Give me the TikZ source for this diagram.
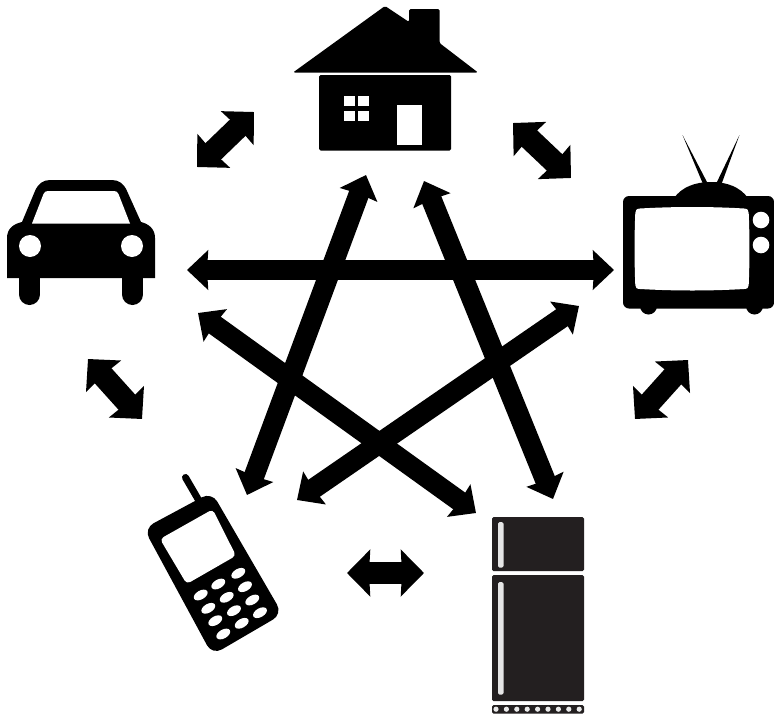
\documentclass[tikz,border=0pt]{standalone}
\usetikzlibrary{arrows.meta}
\definecolor{fridge}{HTML}{231F20}
\tikzset{
  longarrow/.style={line width=20.5pt,{Stealth[length=21pt,width=39pt,inset=1pt]}-{Stealth[length=21pt,width=39pt,inset=1pt]}},
  shortarrow/.style={line width=22.5pt,{Stealth[length=23pt,width=46pt,inset=1pt]}-{Stealth[length=23pt,width=46pt,inset=1pt]}},
  ink/.style={fill=black,draw=none},
  hole/.style={fill=white,draw=none},
}
\begin{document}
\begin{tikzpicture}[x=1pt,y=-1pt]
\useasboundingbox[fill=white] (0,0) rectangle (774,715);
% ---- house
\fill[ink,rounded corners=1.5pt] (293,72.5) -- (385,6) -- (409,22) -- (409,9) -- (439.5,9) -- (439.5,43) -- (478,72.5) -- cycle;
\fill[ink,rounded corners=1.5pt] (319,75) rectangle (451,150.5);
\fill[hole] (344,96) rectangle (355,106);
\fill[hole] (358,96) rectangle (368.5,106);
\fill[hole] (344,111) rectangle (355,121);
\fill[hole] (358,111) rectangle (368.5,121);
\fill[hole] (397,105) rectangle (422,144.5);
% ---- television
\fill[ink] (682.5,135) -- (703,184) -- (708,184) -- cycle;
\fill[ink] (739.5,135) -- (716,184) -- (721.5,184) -- cycle;
\fill[ink] (674,198) .. controls (682,187) and (695,182) .. (711,182) .. controls (727,182) and (740,187) .. (748,198) -- cycle;
\fill[ink,rounded corners=6pt] (623,196) rectangle (774,308.5);
\fill[ink] (648.5,306) circle (8.5);
\fill[ink] (754.5,306) circle (8.5);
\fill[hole] (640,208.5) .. controls (675,206.5) and (710,206.5) .. (744,208.5)
  .. controls (747.5,208.7) and (748.5,210) .. (748.7,213)
  .. controls (749.7,235) and (749.7,262) .. (748.7,285)
  .. controls (748.5,288) and (747.5,288.8) .. (744,289)
  .. controls (710,291) and (675,291) .. (640,289)
  .. controls (636.5,288.8) and (635.5,288) .. (635.3,285)
  .. controls (634.3,262) and (634.3,235) .. (635.3,213)
  .. controls (635.5,210) and (636.5,208.7) .. (640,208.5) -- cycle;
\fill[hole] (761,220) circle (8.3);
\fill[hole] (761,245) circle (8.3);
% ---- car
\fill[ink] (7,278) -- (7,238) .. controls (7,229) and (13,224) .. (22,222) -- (35,191)
  .. controls (38,184) and (43,180) .. (50,180) -- (112,180)
  .. controls (119,180) and (124,184) .. (127,191) -- (141,222)
  .. controls (149,224) and (155,229) .. (155,238) -- (155,278) -- cycle;
\draw[line width=21pt,line cap=round] (29.5,275) -- (29.5,294.5);
\draw[line width=21pt,line cap=round] (132.5,275) -- (132.5,294.5);
\fill[hole] (32,223.5) -- (43.5,194) .. controls (44.5,192) and (45.5,191) .. (48,191) -- (114,191)
  .. controls (116.5,191) and (117.5,192) .. (118.5,194) -- (130,223.5) -- cycle;
\fill[hole] (30,246) circle (11);
\fill[hole] (132,246) circle (11);
% ---- phone
\draw[line width=7pt,line cap=round] (185.5,477.5) -- (198,499);
\fill[ink,rounded corners=11pt] (143.8,528.5) -- (211.7,492) -- (282.5,614) -- (212.3,655) -- cycle;
\fill[hole,rounded corners=4pt] (160,539) -- (212.7,509.3) -- (236,555.7) -- (186.7,584) -- cycle;
\foreach \kx/\ky in {238.3/573.3,218.3/584,200.7/595,
                     245/586.7,226.7/597.3,208.3/608.3,
                     252.3/600,234/610.7,215.3/620.7,
                     260/612.7,241.7/623.3,223.3/634}
  \fill[hole,rotate around={30:(\kx,\ky)}] (\kx,\ky) ellipse (7.6 and 4.4);
% ---- fridge
\fill[fridge,rounded corners=1.5pt] (492,517) rectangle (584,571);
\fill[fridge,rounded corners=1.5pt] (492,575) rectangle (584,701);
\fill[white!90!black,rounded corners=1.5pt] (498,522) rectangle (503.5,567.5);
\fill[white!90!black,rounded corners=1.5pt] (498,582) rectangle (503.5,694.5);
\fill[fridge,rounded corners=1.5pt] (492,705) rectangle (584,713.5);
\foreach \dx in {0,...,8}
  \fill[white!92!black] (496+\dx*10.4,709.2) circle (2.6);
% ---- arrow end points
\coordinate (carL) at (187,270);
\coordinate (tvL) at (614,270);
\coordinate (houseA) at (366,175);
\coordinate (phoneA) at (247,495);
\coordinate (houseB) at (424,181);
\coordinate (fridgeB) at (553,499);
\coordinate (tvC) at (579,306);
\coordinate (phoneC) at (297,500);
\coordinate (carD) at (198,313);
\coordinate (fridgeD) at (476,513);
\coordinate (houseCar) at (254,112);
\coordinate (carHouse) at (197,167);
\coordinate (houseTv) at (513,123);
\coordinate (tvHouse) at (571,178);
\coordinate (carPhone) at (88,359);
\coordinate (phoneCar) at (142,419);
\coordinate (tvFridge) at (688,360);
\coordinate (fridgeTv) at (635,419);
\coordinate (phoneFridge) at (347,573);
\coordinate (fridgePhone) at (424,573);
% ---- arrows
\draw[longarrow] (carL) -- (tvL);
\draw[longarrow] (houseA) -- (phoneA);
\draw[longarrow] (houseB) -- (fridgeB);
\draw[longarrow] (tvC) -- (phoneC);
\draw[longarrow] (carD) -- (fridgeD);
\draw[shortarrow] (houseCar) -- (carHouse);
\draw[shortarrow] (houseTv) -- (tvHouse);
\draw[shortarrow] (carPhone) -- (phoneCar);
\draw[shortarrow] (tvFridge) -- (fridgeTv);
\draw[shortarrow] (phoneFridge) -- (fridgePhone);
\end{tikzpicture}
\end{document}
